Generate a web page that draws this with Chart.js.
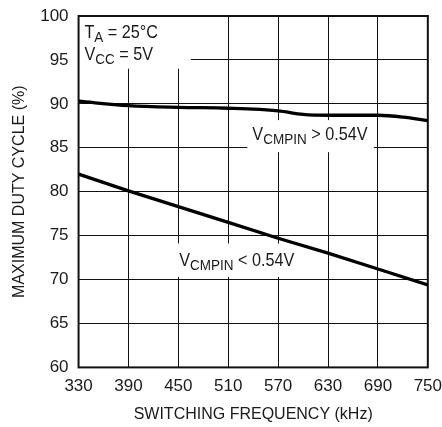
<!DOCTYPE html>
<html>
<head>
<meta charset="utf-8">
<script src="https://cdn.jsdelivr.net/npm/chart.js@4"></script>
<style>
  html, body { margin: 0; padding: 0; background: #fff; }
  #wrap { width: 442px; height: 427px; position: relative; }
</style>
</head>
<body>
<div id="wrap"><canvas id="chart"></canvas></div>
<script>
const FONT = "'Liberation Sans', Arial, sans-serif";

// data
const freqs = [330, 390, 450, 510, 570, 600, 630, 660, 690, 720, 750];
const dutyHigh = [90.3, 89.8, 89.6, 89.5, 89.2, 88.8, 88.7, 88.7, 88.7, 88.5, 88.1];
const freqsLow = [330, 390, 450, 510, 570, 630, 690, 750];
const dutyLow = [82.0, 80.1, 78.3, 76.5, 74.7, 73.0, 71.2, 69.4];
const xTicks = [330, 390, 450, 510, 570, 630, 690, 750];
const yTicks = [60, 65, 70, 75, 80, 85, 90, 95, 100];

// labels placed in data coordinates (baseline start)
const notes = [
  { x: 337, y: 97.5, parts: [['T', 0], ['A', 1], [' = 25°C', 0]] },
  { x: 337, y: 95.0, parts: [['V', 0], ['CC', 1], [' = 5V', 0]] },
  { x: 539, y: 85.9, parts: [['V', 0], ['CMPIN', 1], [' > 0.54V', 0]] },
  { x: 451, y: 71.5, parts: [['V', 0], ['CMPIN', 1], [' < 0.54V', 0]] },
];
// white boxes behind labels, in data coordinates [x0, y0, x1, y1]
const boxes = [
  [330, 100, 465, 94],
  [533, 88.15, 685, 84.5],
  [445, 74.1, 594, 70.3],
];

const drawText = (ctx, x, y, parts) => {
  ctx.save();
  ctx.translate(x, y);
  ctx.scale(0.9, 1);
  let cx = 0;
  parts.forEach(([t, sub]) => {
    ctx.font = (sub ? '15px ' : '18px ') + FONT;
    ctx.fillText(t, cx, sub ? 4 : 0);
    cx += ctx.measureText(t).width;
  });
  ctx.restore();
};

const notesPlugin = {
  id: 'notes',
  beforeDatasetsDraw(chart) {
    const { ctx, scales: { x, y }, chartArea: a } = chart;
    ctx.save();
    ctx.fillStyle = '#fff';
    boxes.forEach(([x0, y0, x1, y1]) => {
      const px0 = x.getPixelForValue(x0), px1 = x.getPixelForValue(x1);
      const py0 = y.getPixelForValue(y0), py1 = y.getPixelForValue(y1);
      ctx.fillRect(px0, py0, px1 - px0, py1 - py0);
    });
    ctx.lineWidth = 2;
    ctx.strokeStyle = '#111';
    ctx.strokeRect(a.left, a.top, a.right - a.left, a.bottom - a.top);
    ctx.restore();
  },
  afterDatasetsDraw(chart) {
    const { ctx, scales: { x, y } } = chart;
    ctx.save();
    ctx.fillStyle = '#1a1a1a';
    ctx.textBaseline = 'alphabetic';
    notes.forEach(n => drawText(ctx, x.getPixelForValue(n.x), y.getPixelForValue(n.y), n.parts));
    ctx.restore();
  }
};

// invisible tick marks give the label offset without widening the overflow padding
const gridOpts = (len) => ({
  color: '#111',
  lineWidth: 1,
  drawTicks: true,
  tickLength: len,
  tickColor: 'rgba(0,0,0,0)',
});

new Chart(document.getElementById('chart'), {
  type: 'line',
  data: {
    datasets: [
      {
        data: freqs.map((f, i) => ({ x: f, y: dutyHigh[i] })),
        borderColor: '#000',
        borderWidth: 3.3,
        pointRadius: 0,
        cubicInterpolationMode: 'monotone',
      },
      {
        data: freqsLow.map((f, i) => ({ x: f, y: dutyLow[i] })),
        borderColor: '#000',
        borderWidth: 3.3,
        pointRadius: 0,
        tension: 0,
      },
    ],
  },
  options: {
    responsive: true,
    maintainAspectRatio: false,
    animation: false,
    layout: { padding: { top: 16, right: 12, left: 10, bottom: 0 } },
    plugins: { legend: { display: false }, tooltip: { enabled: false } },
    scales: {
      x: {
        type: 'linear',
        min: 330,
        max: 750,
        afterBuildTicks: s => { s.ticks = xTicks.map(v => ({ value: v })); },
        ticks: { color: '#1a1a1a', font: { family: FONT, size: 17 }, padding: 0, maxRotation: 0 },
        grid: gridOpts(9),
        border: { display: false },
        title: {
          display: true,
          text: 'SWITCHING FREQUENCY (kHz)',
          color: '#1a1a1a',
          font: { family: FONT, size: 16 },
          padding: { top: 8, bottom: 3 },
        },
      },
      y: {
        min: 60,
        max: 100,
        afterBuildTicks: s => { s.ticks = yTicks.map(v => ({ value: v })); },
        ticks: { color: '#1a1a1a', font: { family: FONT, size: 17 }, padding: 0 },
        grid: gridOpts(10),
        border: { display: false },
        title: {
          display: true,
          text: 'MAXIMUM DUTY CYCLE (%)',
          color: '#1a1a1a',
          font: { family: FONT, size: 16 },
          padding: { top: 0, bottom: 11 },
        },
      },
    },
  },
  plugins: [notesPlugin],
});
</script>
</body>
</html>
